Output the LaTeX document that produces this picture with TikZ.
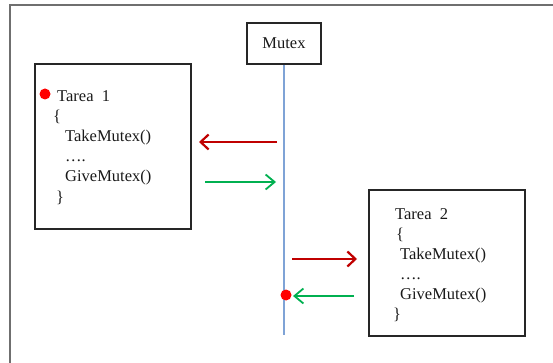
\documentclass[tikz,border=0pt]{standalone}
\usepackage{fontspec}
\setmainfont{Liberation Serif}
\usetikzlibrary{arrows.meta}
\definecolor{frame}{HTML}{6F6F6F}
\definecolor{darkred}{HTML}{C00000}
\definecolor{mygreen}{HTML}{00B050}
\definecolor{lifeblue}{HTML}{7FA3D6}
\begin{document}
\begin{tikzpicture}[x=1pt,y=-1pt,
  box/.style={draw=black!85,line width=1.8pt,inner sep=0pt},
  txt/.style={anchor=base west,inner sep=0pt,font=\fontsize{16.5}{18}\selectfont,text=black!90},
  redarrow/.style={draw=darkred,line width=2.2pt,-{Straight Barb[length=8pt,width=15pt,line width=2.2pt]}},
  greenarrow/.style={draw=mygreen,line width=1.3pt,-{Straight Barb[length=9pt,width=15pt,line width=1.8pt]}},
  dot/.style={circle,fill=red,inner sep=0pt,minimum size=11pt}]
\useasboundingbox (0,0) rectangle (553,363);
\draw[frame,line width=1.2pt] (10,363) -- (10,5) -- (553,5);
% Mutex
\node[box,minimum width=74pt,minimum height=41pt,
  font=\fontsize{16.5}{18}\selectfont,text=black!90] (mutex) at (284,43.5) {Mutex};
\coordinate (lifeend) at (284,335);
\draw[lifeblue,line width=1.5pt] (mutex.south) -- (lifeend);
% Tarea 1 box
\node[box,minimum width=156pt,minimum height=165pt] (t1) at (113,146.5) {};
\node[dot] (d1) at (45,94) {};
\node[txt] (t1a) at (57,102) {Tarea~~1};
\node[txt] (t1b) at (53,122) {\{};
\node[txt] (t1c) at (65,142) {TakeMutex()};
\node[txt] (t1d) at (65,162) {….};
\node[txt] (t1e) at (65,182) {GiveMutex()};
\node[txt] (t1f) at (56,202) {\}};
% Tarea 2 box
\node[box,minimum width=156pt,minimum height=146pt] (t2) at (447,263) {};
\node[txt] (t2a) at (395,219) {Tarea~~2};
\node[txt] (t2b) at (396,239) {\{};
\node[txt] (t2c) at (400,259) {TakeMutex()};
\node[txt] (t2d) at (400,279) {….};
\node[txt] (t2e) at (400,299) {GiveMutex()};
\node[txt] (t2f) at (393,319) {\}};
% arrow endpoints
\coordinate (r1s) at (277,142);
\coordinate (r1e) at (199,142);
\coordinate (g1s) at (205,182);
\coordinate (g1e) at (276,182);
\coordinate (r2s) at (292,259);
\coordinate (r2e) at (357,259);
\coordinate (g2s) at (354,296);
\coordinate (g2e) at (293,296);
\draw[redarrow] (r1s) -- (r1e);
\draw[greenarrow] (g1s) -- (g1e);
\draw[redarrow] (r2s) -- (r2e);
\draw[greenarrow] (g2s) -- (g2e);
\node[dot] (d2) at (286,295) {};
\end{tikzpicture}
\end{document}
